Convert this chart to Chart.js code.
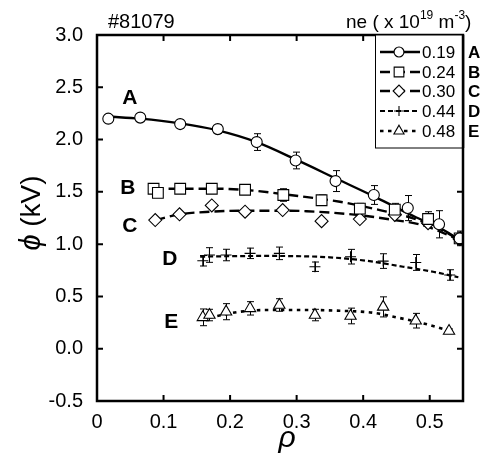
<!DOCTYPE html>
<html>
<head>
<meta charset="utf-8">
<script src="https://cdn.jsdelivr.net/npm/chart.js@4"></script>
<style>
  html, body { margin: 0; padding: 0; background: #fff; }
  #wrap { width: 490px; height: 458px; }
</style>
</head>
<body>
<div id="wrap"><canvas id="c" width="490" height="458"></canvas></div>
<script>
// ---- data ----
const seriesLabels = ['0.19', '0.24', '0.30', '0.44', '0.48'];
const seriesTags = ['A', 'B', 'C', 'D', 'E'];
const shotLabel = '#81079';

const rhoA = [0.017, 0.065, 0.125, 0.1815, 0.240, 0.2985, 0.3585, 0.416, 0.467, 0.514, 0.545];
const phiA = [2.20, 2.21, 2.148, 2.10, 1.976, 1.80, 1.603, 1.47, 1.345, 1.19, 1.055];
const errA = [0.02, 0.02, 0.04, 0.04, 0.08, 0.08, 0.10, 0.09, 0.12, 0.13, 0.07];

const rhoB = [0.085, 0.0915, 0.125, 0.1725, 0.2225, 0.280, 0.3375, 0.395, 0.4475, 0.4975, 0.545];
const phiB = [1.53, 1.49, 1.53, 1.53, 1.52, 1.47, 1.42, 1.34, 1.33, 1.24, 1.055];
const errB = [0.02, 0.02, 0.03, 0.03, 0.03, 0.06, 0.05, 0.05, 0.06, 0.07, 0.06];

const rhoC = [0.0875, 0.124, 0.1725, 0.2225, 0.279, 0.3375, 0.395, 0.4475, 0.4975, 0.545];
const phiC = [1.23, 1.285, 1.37, 1.31, 1.326, 1.22, 1.24, 1.28, 1.20, 1.05];

const rhoD = [0.159, 0.169, 0.194, 0.230, 0.274, 0.3275, 0.381, 0.430, 0.479, 0.530];
const phiD = [0.841, 0.896, 0.896, 0.912, 0.912, 0.784, 0.880, 0.838, 0.825, 0.705];
const errD = [0.05, 0.07, 0.055, 0.05, 0.06, 0.045, 0.07, 0.07, 0.076, 0.05];

const rhoE = [0.159, 0.169, 0.194, 0.230, 0.274, 0.3275, 0.381, 0.430, 0.479, 0.529];
const phiE = [0.300, 0.322, 0.354, 0.386, 0.418, 0.322, 0.313, 0.400, 0.268, 0.169];
const errE = [0.08, 0.055, 0.077, 0.064, 0.06, 0.055, 0.075, 0.096, 0.07, 0.02];

// smooth fitted curves
const fitRhoA = [0.017, 0.065, 0.125, 0.18, 0.24, 0.30, 0.36, 0.42, 0.48, 0.515, 0.545];
const fitPhiA = [2.22, 2.20, 2.155, 2.09, 1.975, 1.805, 1.625, 1.445, 1.255, 1.155, 1.04];
const fitRhoB = [0.085, 0.13, 0.18, 0.22, 0.29, 0.365, 0.425, 0.475, 0.51, 0.545];
const fitPhiB = [1.53, 1.53, 1.53, 1.52, 1.47, 1.405, 1.326, 1.247, 1.16, 1.04];
const fitRhoC = [0.0875, 0.124, 0.17, 0.22, 0.28, 0.315, 0.39, 0.44, 0.49, 0.545];
const fitPhiC = [1.23, 1.285, 1.31, 1.32, 1.32, 1.315, 1.28, 1.237, 1.18, 1.04];
const fitRhoD = [0.155, 0.20, 0.25, 0.29, 0.35, 0.405, 0.46, 0.505, 0.543];
const fitPhiD = [0.88, 0.885, 0.887, 0.886, 0.874, 0.841, 0.784, 0.736, 0.683];
const fitRhoE = [0.157, 0.17, 0.215, 0.255, 0.315, 0.365, 0.415, 0.45, 0.49, 0.535];
const fitPhiE = [0.29, 0.30, 0.354, 0.37, 0.37, 0.363, 0.344, 0.30, 0.243, 0.163];

const yTicks = [-0.5, 0, 0.5, 1.0, 1.5, 2.0, 2.5, 3.0];
const xTicks = [0, 0.1, 0.2, 0.3, 0.4, 0.5];

// ---- build datasets ----
const pts = (xs, ys) => xs.map((x, i) => ({ x: x, y: ys[i] }));
const styles = [
  { dash: [], width: 2.4, point: 'circle', r: 5.5 },
  { dash: [10, 5], width: 2.4, point: 'rect', r: 7.6 },
  { dash: [10, 5], width: 2.4, point: 'rectRot', r: 6.5 },
  { dash: [5, 3], width: 2.2, point: 'cross', r: 5.5 },
  { dash: [3.5, 4.5], width: 2.6, point: 'triangle', r: 6.5 }
];
const fits = [[fitRhoA, fitPhiA], [fitRhoB, fitPhiB], [fitRhoC, fitPhiC], [fitRhoD, fitPhiD], [fitRhoE, fitPhiE]];
const meas = [[rhoA, phiA, errA], [rhoB, phiB, errB], [rhoC, phiC, null], [rhoD, phiD, errD], [rhoE, phiE, errE]];

const datasets = [];
fits.forEach((f, i) => {
  datasets.push({
    label: 'fit ' + seriesLabels[i],
    data: pts(f[0], f[1]),
    showLine: true,
    borderColor: '#000',
    borderWidth: styles[i].width,
    borderDash: styles[i].dash,
    pointRadius: 0,
    cubicInterpolationMode: 'monotone',
    fill: false,
    order: 10
  });
});
meas.forEach((m, i) => {
  datasets.push({
    label: seriesLabels[i],
    data: pts(m[0], m[1]),
    err: m[2],
    showLine: false,
    pointStyle: styles[i].point,
    pointRadius: styles[i].r,
    pointBackgroundColor: '#fff',
    pointBorderColor: '#000',
    pointBorderWidth: 1.1,
    isMeasured: true,
    styleIndex: i,
    order: 0
  });
});

const FONT = '"Liberation Sans", Arial, sans-serif';

const decorPlugin = {
  id: 'decor',
  beforeDatasetsDraw(chart) {
    const ctx = chart.ctx, xs = chart.scales.x, ys = chart.scales.y;
    ctx.save();
    ctx.strokeStyle = '#000';
    ctx.lineWidth = 1;
    chart.data.datasets.forEach(ds => {
      if (!ds.isMeasured || !ds.err) return;
      ds.data.forEach((p, i) => {
        const e = ds.err[i];
        const px = Math.round(xs.getPixelForValue(p.x)) + 0.5;
        const y1 = ys.getPixelForValue(p.y + e), y2 = ys.getPixelForValue(p.y - e);
        ctx.beginPath();
        ctx.moveTo(px, y1); ctx.lineTo(px, y2);
        ctx.moveTo(px - 3.5, y1); ctx.lineTo(px + 3.5, y1);
        ctx.moveTo(px - 3.5, y2); ctx.lineTo(px + 3.5, y2);
        ctx.stroke();
      });
    });
    ctx.restore();
  },
  afterDraw(chart) {
    const ctx = chart.ctx, a = chart.chartArea, xs = chart.scales.x, ys = chart.scales.y;
    ctx.save();
    // inward tick marks on all four sides
    ctx.strokeStyle = '#000';
    ctx.lineWidth = 2;
    const tl = 6;
    xTicks.forEach(v => {
      const px = xs.getPixelForValue(v);
      ctx.beginPath();
      ctx.moveTo(px, a.bottom); ctx.lineTo(px, a.bottom - tl);
      ctx.moveTo(px, a.top); ctx.lineTo(px, a.top + tl);
      ctx.stroke();
    });
    yTicks.forEach(v => {
      const py = ys.getPixelForValue(v);
      ctx.beginPath();
      ctx.moveTo(a.left, py); ctx.lineTo(a.left + tl, py);
      ctx.moveTo(a.right, py); ctx.lineTo(a.right - tl, py);
      ctx.stroke();
    });
    // frame
    ctx.lineWidth = 2.5;
    ctx.strokeRect(a.left, a.top, a.right - a.left, a.bottom - a.top);

    // legend box
    const lx = 375, ly = a.top, lw = a.right - 375, lh = 113;
    ctx.fillStyle = '#fff';
    ctx.fillRect(lx, ly, lw, lh);
    ctx.lineWidth = 1;
    ctx.strokeStyle = '#000';
    ctx.strokeRect(lx + 0.5, ly, lw, lh);
    ctx.lineWidth = 2.5;
    ctx.beginPath(); ctx.moveTo(a.right, a.top); ctx.lineTo(a.right, ly + lh); ctx.stroke();

    const rowY = [52, 72, 91, 111, 131];
    const meta = chart.data.datasets.filter(d => d.isMeasured);
    meta.forEach((ds, i) => {
      const st = styles[ds.styleIndex];
      const cy = rowY[i];
      ctx.save();
      ctx.strokeStyle = '#000';
      ctx.lineWidth = st.width;
      ctx.setLineDash(st.dash);
      ctx.beginPath(); ctx.moveTo(380, cy); ctx.lineTo(420, cy); ctx.stroke();
      ctx.restore();
      ctx.save();
      ctx.fillStyle = '#fff'; ctx.strokeStyle = '#000'; ctx.lineWidth = 1.1;
      Chart.helpers.drawPoint(ctx, { pointStyle: st.point, radius: st.r * 0.9, borderWidth: 1.1 }, 399, cy);
      ctx.restore();
      ctx.fillStyle = '#000';
      ctx.font = '17px ' + FONT;
      ctx.textAlign = 'left'; ctx.textBaseline = 'middle';
      ctx.fillText(ds.label, 422, cy + 1);
      ctx.font = 'bold 17px ' + FONT;
      ctx.fillText(seriesTags[i], 468, cy + 1);
    });

    // curve tags on the plot
    const tagPos = [[0.038, 2.34], [0.035, 1.48], [0.038, 1.115], [0.098, 0.80], [0.101, 0.198]];
    ctx.fillStyle = '#000';
    ctx.font = 'bold 21px ' + FONT;
    ctx.textAlign = 'left'; ctx.textBaseline = 'alphabetic';
    tagPos.forEach((p, i) => {
      ctx.fillText(seriesTags[i], xs.getPixelForValue(p[0]), ys.getPixelForValue(p[1]));
    });

    // top texts
    ctx.font = '20px ' + FONT;
    ctx.textAlign = 'left';
    ctx.fillText(shotLabel, 108, 28);
    let x = 346;
    const parts = [['ne ( x 10', 19, 28], ['19', 12, 19], [' m', 19, 28], ['-3', 12, 19], [')', 19, 28]];
    parts.forEach(pp => {
      ctx.font = pp[1] + 'px ' + FONT;
      ctx.fillText(pp[0], x, pp[2]);
      x += ctx.measureText(pp[0]).width;
    });

    // axis titles
    ctx.font = 'italic 30px ' + FONT;
    ctx.textAlign = 'center';
    ctx.fillText('\u03C1', (a.left + a.right) / 2 + 7, 447);
    ctx.save();
    ctx.translate(40, 213);
    ctx.rotate(-Math.PI / 2);
    ctx.textAlign = 'left';
    ctx.font = 'italic 29px ' + FONT;
    const phiTxt = '\u03D5';
    const rest = ' (kV)';
    const w1 = ctx.measureText(phiTxt).width;
    ctx.font = '28px ' + FONT;
    const w2 = ctx.measureText(rest).width;
    const start = -(w1 + w2) / 2;
    ctx.font = 'italic 29px ' + FONT;
    ctx.fillText(phiTxt, start, 0);
    ctx.font = '28px ' + FONT;
    ctx.fillText(rest, start + w1, 0);
    ctx.restore();
    ctx.restore();
  }
};

new Chart(document.getElementById('c'), {
  type: 'scatter',
  data: { datasets: datasets },
  options: {
    responsive: false,
    animation: false,
    devicePixelRatio: 1,
    layout: { padding: { top: 35, right: 27, left: 0, bottom: 0 } },
    plugins: { legend: { display: false }, tooltip: { enabled: false } },
    scales: {
      x: {
        type: 'linear', min: 0, max: 0.55,
        afterFit: s => { s.height = 57; },
        afterBuildTicks: s => { s.ticks = xTicks.map(v => ({ value: v })); },
        grid: { display: false, drawTicks: false },
        border: { display: false },
        ticks: {
          padding: 9, color: '#000', font: { family: FONT, size: 20 },
          callback: v => (v === 0 ? '0' : v.toFixed(1))
        }
      },
      y: {
        type: 'linear', min: -0.5, max: 3.0,
        afterFit: s => { s.width = 97; },
        afterBuildTicks: s => { s.ticks = yTicks.map(v => ({ value: v })); },
        grid: { display: false, drawTicks: false },
        border: { display: false },
        ticks: {
          padding: 14, color: '#000', font: { family: FONT, size: 20 },
          callback: v => v.toFixed(1)
        }
      }
    }
  },
  plugins: [decorPlugin]
});
</script>
</body>
</html>
